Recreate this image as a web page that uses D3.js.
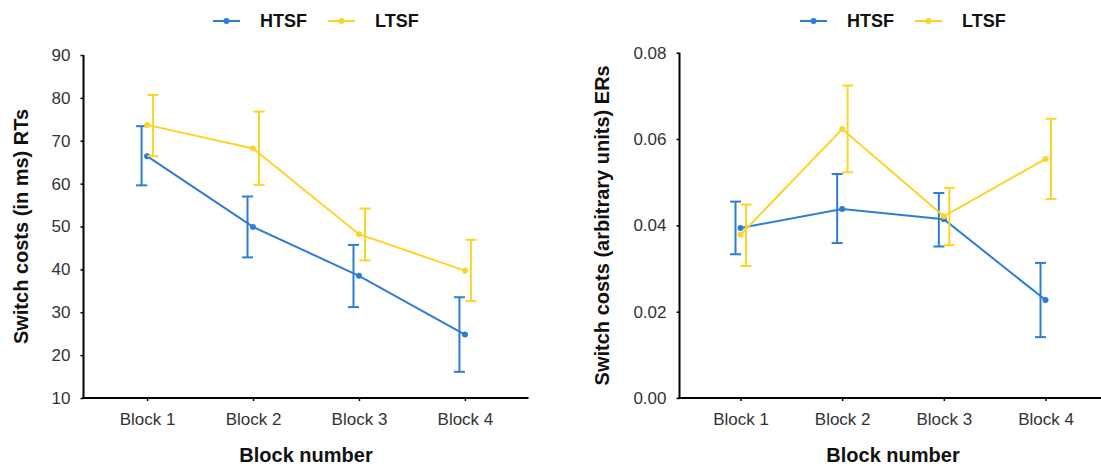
<!DOCTYPE html>
<html>
<head>
<meta charset="utf-8">
<script src="https://cdn.jsdelivr.net/npm/d3@7"></script>
<style>
  html, body { margin: 0; padding: 0; background: #fff; }
  svg { display: block; font-family: "Liberation Sans", Arial, sans-serif; }
</style>
</head>
<body>
<svg id="chart" width="1101" height="466"></svg>
<script>
// ---- data ----
const blocks = ["Block 1", "Block 2", "Block 3", "Block 4"];
const seriesNames = ["HTSF", "LTSF"];

const rtHTSF   = [66.4, 49.9, 38.5, 24.8];
const rtHTSFlo = [59.6, 42.8, 31.2, 16.1];
const rtHTSFhi = [73.4, 57.0, 45.7, 33.5];
const rtLTSF   = [73.7, 68.2, 48.2, 39.7];
const rtLTSFlo = [66.4, 59.7, 42.1, 32.6];
const rtLTSFhi = [80.7, 76.8, 54.2, 46.9];

const erHTSF   = [0.0394, 0.0438, 0.0414, 0.0227];
const erHTSFlo = [0.0333, 0.0359, 0.0351, 0.0141];
const erHTSFhi = [0.0455, 0.0519, 0.0475, 0.0313];
const erLTSF   = [0.0378, 0.0623, 0.0421, 0.0554];
const erLTSFlo = [0.0306, 0.0523, 0.0354, 0.0461];
const erLTSFhi = [0.0448, 0.0724, 0.0487, 0.0647];

const rtTicks = [10, 20, 30, 40, 50, 60, 70, 80, 90];
const erTicks = [0, 0.02, 0.04, 0.06, 0.08];

const colors = { HTSF: "#2e7dd4", LTSF: "#fdd426" };

const svg = d3.select("#chart");

function panel(cfg) {
  const g = svg.append("g");
  const x = d3.scalePoint().domain(blocks).range([cfg.x0, cfg.x1]).padding(0.6);
  const y = d3.scaleLinear().domain(cfg.domain).range([cfg.yBottom, cfg.yTop]);

  // axes
  const yAxis = g.append("g").attr("transform", `translate(${cfg.x0},0)`)
    .call(d3.axisLeft(y).tickValues(cfg.ticks).tickSize(3).tickPadding(10).tickFormat(cfg.fmt));
  const xAxis = g.append("g").attr("transform", `translate(0,${cfg.yBottom})`)
    .call(d3.axisBottom(x).tickSize(3).tickPadding(12));
  [xAxis, yAxis].forEach(a => {
    a.select(".domain").attr("stroke", "#000").attr("stroke-width", 2);
    a.selectAll(".tick line").attr("stroke", "#000").attr("stroke-width", 1.5);
    a.selectAll(".tick text").attr("fill", "#333").attr("font-size", 17)
      .attr("font-family", "'Liberation Sans', Arial, sans-serif");
  });
  // y-axis domain without outer tick cap
  yAxis.select(".domain").attr("d", `M0,${cfg.yTop}V${cfg.yBottom}`);
  xAxis.select(".domain").attr("d", `M${cfg.x0 - 1},0H${cfg.x1}`);

  // series
  cfg.series.forEach(s => {
    const col = colors[s.name];
    const pts = blocks.map((b, i) => ({ b, v: s.v[i], lo: s.lo[i], hi: s.hi[i] }));
    const line = d3.line().x(d => x(d.b)).y(d => y(d.v));
    g.append("path").datum(pts).attr("d", line)
      .attr("fill", "none").attr("stroke", col).attr("stroke-width", 2);
    const eb = g.append("g").attr("stroke", col).attr("stroke-width", 2).attr("fill", "none");
    pts.forEach(d => {
      const cx = x(d.b) + s.off;
      eb.append("line").attr("x1", cx).attr("x2", cx).attr("y1", y(d.lo)).attr("y2", y(d.hi));
      eb.append("line").attr("x1", cx - 5.5).attr("x2", cx + 5.5).attr("y1", y(d.lo)).attr("y2", y(d.lo));
      eb.append("line").attr("x1", cx - 5.5).attr("x2", cx + 5.5).attr("y1", y(d.hi)).attr("y2", y(d.hi));
    });
    g.selectAll(null).data(pts).enter().append("circle")
      .attr("cx", d => x(d.b)).attr("cy", d => y(d.v)).attr("r", 3).attr("fill", col);
  });

  // axis titles
  const cx = (cfg.x0 + cfg.x1) / 2;
  g.append("text").attr("x", cx).attr("y", 462).attr("text-anchor", "middle")
    .attr("font-size", 20).attr("font-weight", "bold").attr("fill", "#111").text("Block number");
  g.append("text").attr("transform", `translate(${cfg.titleX},${(cfg.yTop + cfg.yBottom) / 2}) rotate(-90)`)
    .attr("text-anchor", "middle").attr("dominant-baseline", "central")
    .attr("font-size", 20).attr("font-weight", "bold").attr("fill", "#111").text(cfg.yTitle);

  // legend
  const lx = cx - 93, ly = 21;
  seriesNames.forEach((n, i) => {
    const ox = lx + i * 115;
    g.append("line").attr("x1", ox).attr("x2", ox + 27).attr("y1", ly).attr("y2", ly)
      .attr("stroke", colors[n]).attr("stroke-width", 2);
    g.append("circle").attr("cx", ox + 13.5).attr("cy", ly).attr("r", 3).attr("fill", colors[n]);
    g.append("text").attr("x", ox + 47).attr("y", ly).attr("dominant-baseline", "central")
      .attr("font-size", 18).attr("font-weight", "bold").attr("fill", "#111").text(n);
  });
}

panel({
  x0: 83.5, x1: 528.5, yTop: 55, yBottom: 398, domain: [10, 90], ticks: rtTicks,
  fmt: d3.format("d"), yTitle: "Switch costs (in ms) RTs", titleX: 21,
  series: [
    { name: "HTSF", v: rtHTSF, lo: rtHTSFlo, hi: rtHTSFhi, off: -5.5 },
    { name: "LTSF", v: rtLTSF, lo: rtLTSFlo, hi: rtLTSFhi, off: 6 }
  ]
});

panel({
  x0: 679.5, x1: 1106.5, yTop: 52.7, yBottom: 398, domain: [0, 0.08], ticks: erTicks,
  fmt: d3.format(".2f"), yTitle: "Switch costs (arbitrary units) ERs", titleX: 601.5,
  series: [
    { name: "HTSF", v: erHTSF, lo: erHTSFlo, hi: erHTSFhi, off: -5 },
    { name: "LTSF", v: erLTSF, lo: erLTSFlo, hi: erLTSFhi, off: 5.5 }
  ]
});
</script>
</body>
</html>
